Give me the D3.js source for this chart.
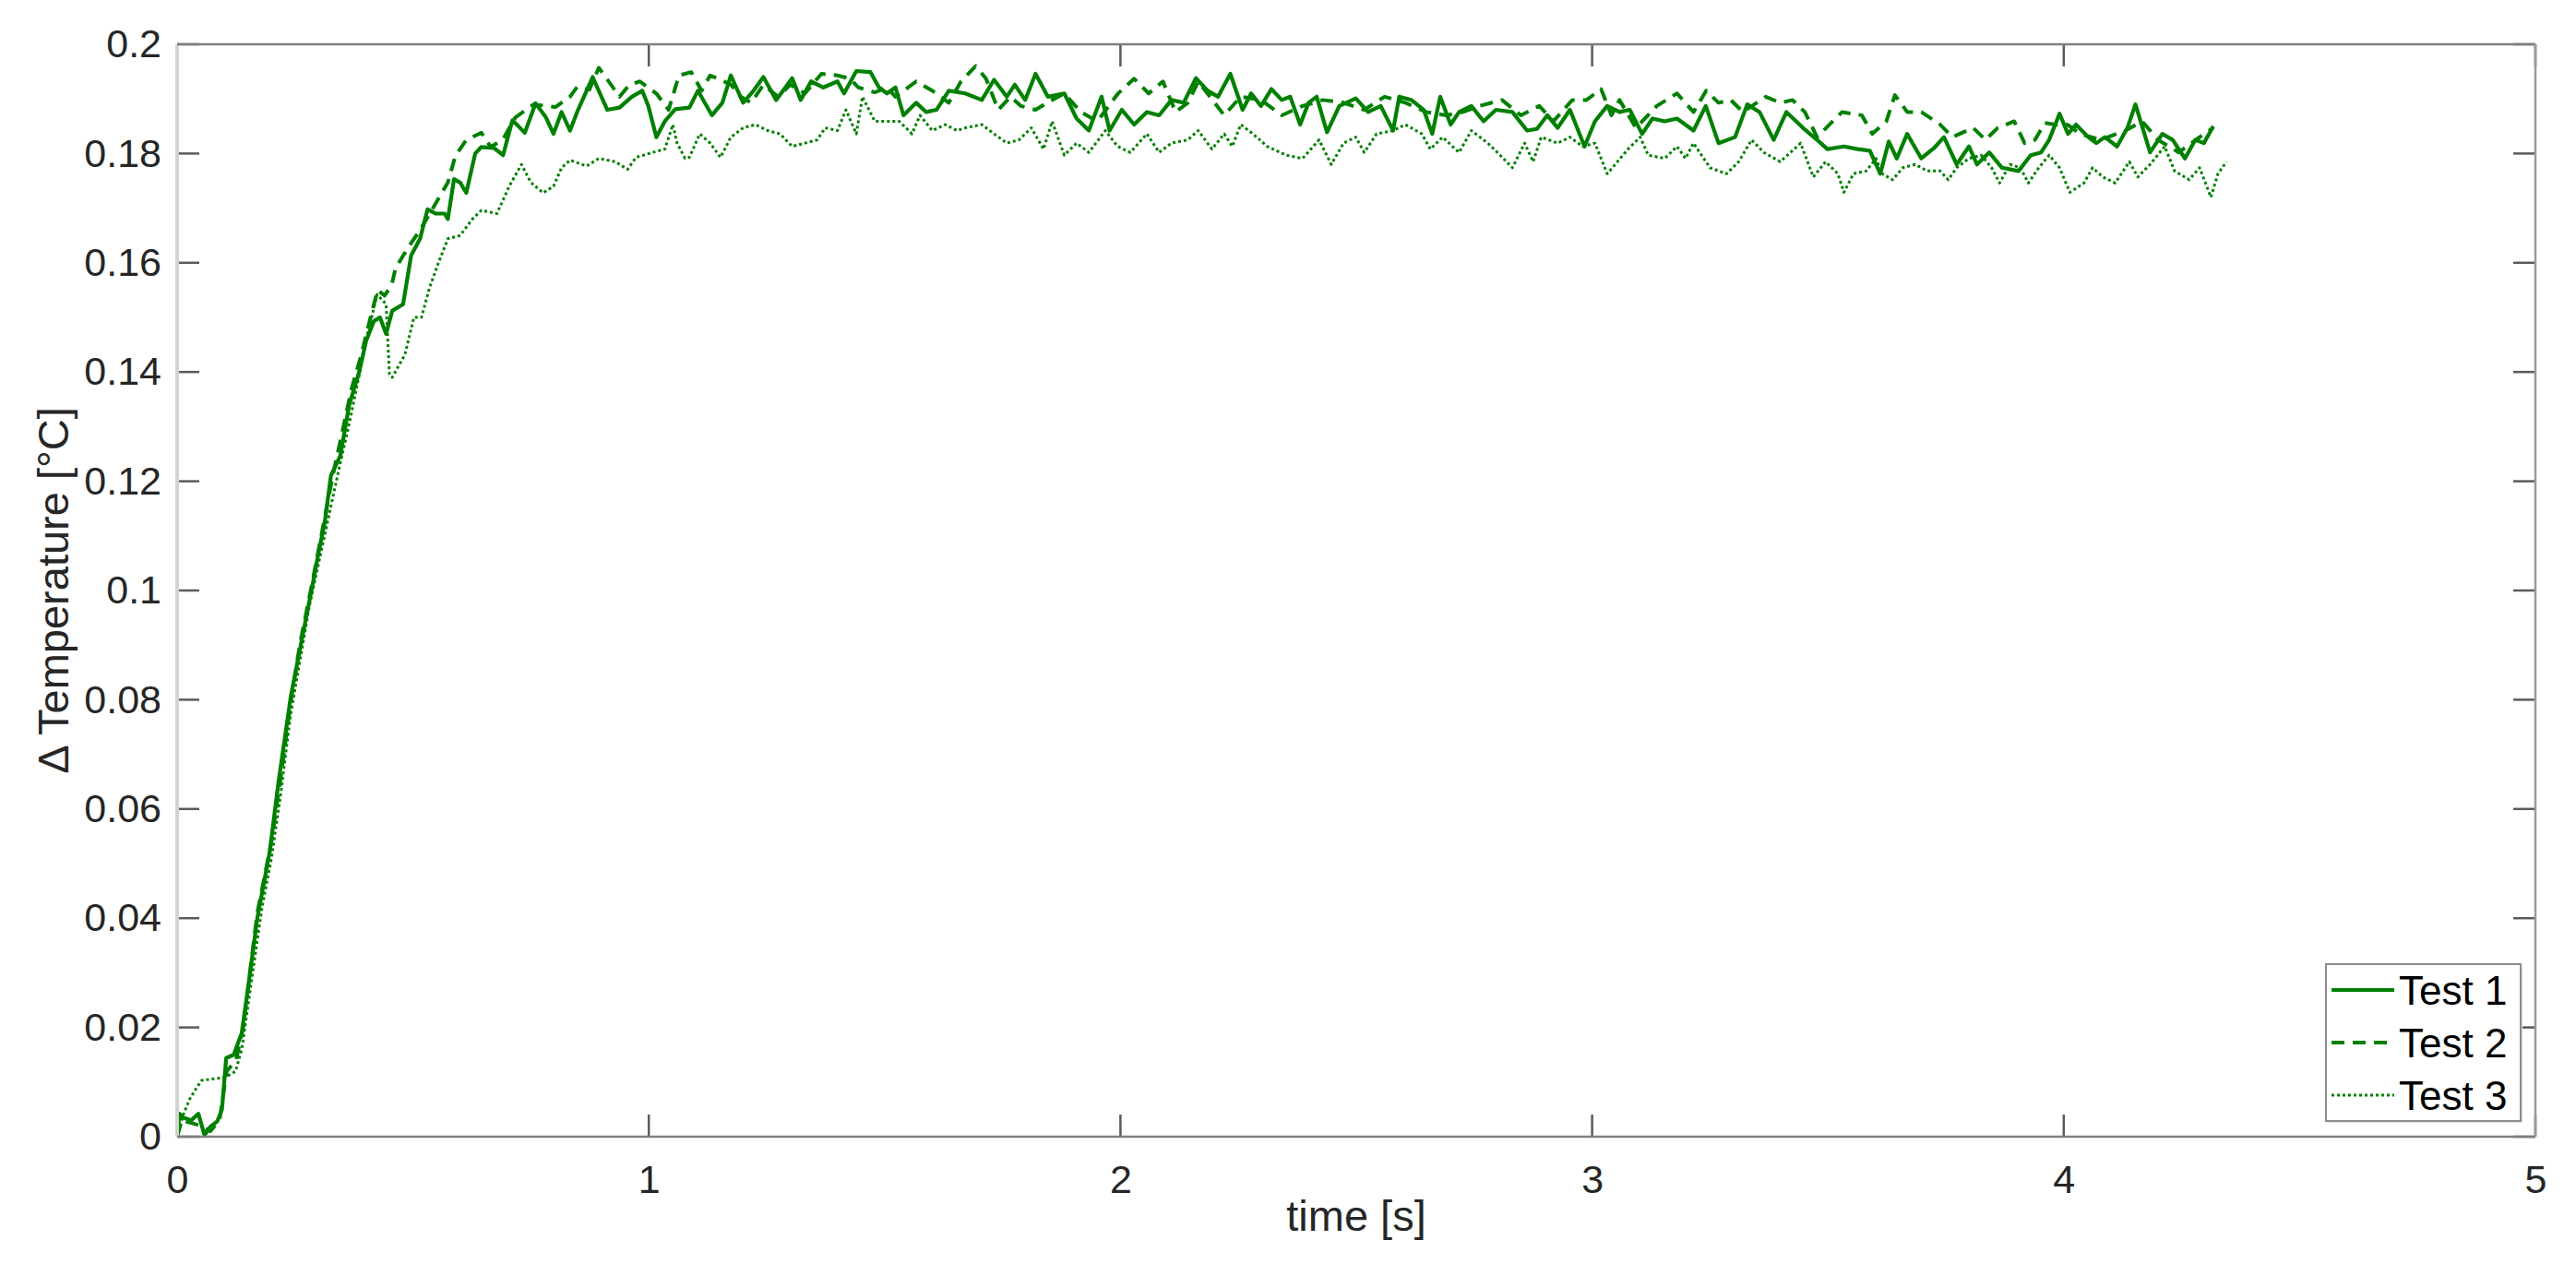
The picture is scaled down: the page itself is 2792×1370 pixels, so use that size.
<!DOCTYPE html>
<html>
<head>
<meta charset="utf-8">
<script src="https://cdn.jsdelivr.net/npm/d3@7"></script>
<style>
  html, body { margin: 0; padding: 0; background: #fff; }
  svg { display: block; }
  text { font-family: "Liberation Sans", Arial, Helvetica, sans-serif; }
</style>
</head>
<body>
<svg id="chart" width="2792" height="1370"></svg>
<script>
// ---- data (time [s], ΔT [°C]) ----
const xTicks = [0, 1, 2, 3, 4, 5];
const yTicks = [0, 0.02, 0.04, 0.06, 0.08, 0.1, 0.12, 0.14, 0.16, 0.18, 0.2];
const seriesNames = ["Test 1", "Test 2", "Test 3"];

const test1 = [[0,0],[0.005,0.0042],[0.012,0.0035],[0.03,0.003],[0.045,0.0042],[0.058,0.0003],[0.07,0.0018],[0.085,0.0028],[0.095,0.005],[0.104,0.0144],[0.12,0.015],[0.137,0.019],[0.15,0.027],[0.17,0.040],[0.196,0.052],[0.215,0.065],[0.241,0.0806],[0.261,0.0895],[0.287,0.101],[0.30,0.107],[0.313,0.1125],[0.326,0.121],[0.346,0.1247],[0.365,0.134],[0.385,0.1397],[0.401,0.1458],[0.417,0.1493],[0.430,0.150],[0.443,0.147],[0.456,0.1512],[0.479,0.1524],[0.496,0.1613],[0.515,0.1644],[0.531,0.1698],[0.548,0.169],[0.567,0.169],[0.574,0.168],[0.587,0.1753],[0.600,0.1747],[0.613,0.1728],[0.632,0.180],[0.645,0.1812],[0.672,0.181],[0.691,0.1797],[0.711,0.1861],[0.737,0.1838],[0.760,0.1892],[0.782,0.1866],[0.798,0.1836],[0.815,0.1876],[0.833,0.1842],[0.850,0.188],[0.881,0.194],[0.912,0.188],[0.938,0.1884],[0.964,0.1904],[0.986,0.1915],[0.999,0.1887],[1.016,0.183],[1.034,0.1859],[1.056,0.1881],[1.086,0.1884],[1.104,0.1915],[1.134,0.187],[1.156,0.1893],[1.174,0.1943],[1.200,0.1893],[1.222,0.1915],[1.243,0.194],[1.270,0.1898],[1.304,0.1938],[1.322,0.1898],[1.344,0.1932],[1.370,0.1921],[1.400,0.1932],[1.414,0.191],[1.440,0.1951],[1.470,0.1949],[1.488,0.1921],[1.505,0.191],[1.523,0.1921],[1.540,0.187],[1.567,0.1893],[1.588,0.1876],[1.610,0.188],[1.636,0.1915],[1.671,0.191],[1.706,0.1898],[1.732,0.1935],[1.759,0.1904],[1.776,0.1926],[1.798,0.1898],[1.820,0.1946],[1.846,0.1904],[1.881,0.191],[1.907,0.1864],[1.933,0.1842],[1.960,0.1904],[1.977,0.1842],[2.003,0.188],[2.029,0.1853],[2.056,0.1876],[2.082,0.187],[2.108,0.1898],[2.134,0.1893],[2.160,0.1938],[2.185,0.1915],[2.207,0.1904],[2.233,0.1946],[2.259,0.188],[2.277,0.191],[2.298,0.1887],[2.320,0.1918],[2.342,0.1898],[2.360,0.1904],[2.381,0.1853],[2.399,0.1893],[2.416,0.1904],[2.438,0.1839],[2.464,0.1887],[2.499,0.1901],[2.525,0.1876],[2.552,0.1887],[2.578,0.1842],[2.591,0.1904],[2.617,0.1898],[2.643,0.188],[2.661,0.1836],[2.678,0.1904],[2.700,0.1853],[2.718,0.1876],[2.744,0.1887],[2.770,0.1859],[2.796,0.188],[2.831,0.1876],[2.862,0.1842],[2.883,0.1845],[2.905,0.187],[2.927,0.1847],[2.953,0.188],[2.984,0.1813],[3.006,0.1859],[3.032,0.1887],[3.058,0.1876],[3.080,0.188],[3.106,0.1836],[3.128,0.1864],[3.154,0.1859],[3.180,0.1864],[3.215,0.1842],[3.241,0.1887],[3.268,0.1819],[3.303,0.183],[3.329,0.189],[3.355,0.1876],[3.385,0.1825],[3.412,0.1876],[3.447,0.1847],[3.477,0.1825],[3.499,0.1808],[3.534,0.1813],[3.563,0.1808],[3.589,0.1805],[3.611,0.1763],[3.629,0.1822],[3.646,0.1791],[3.668,0.1836],[3.698,0.1791],[3.725,0.181],[3.746,0.183],[3.773,0.178],[3.799,0.1813],[3.816,0.178],[3.842,0.1802],[3.869,0.1774],[3.904,0.1768],[3.930,0.1797],[3.952,0.1802],[3.969,0.1825],[3.991,0.1873],[4.009,0.1836],[4.026,0.1853],[4.052,0.183],[4.069,0.1819],[4.087,0.183],[4.113,0.1813],[4.135,0.1847],[4.152,0.189],[4.183,0.1802],[4.209,0.1836],[4.231,0.1825],[4.257,0.1791],[4.279,0.1825],[4.297,0.1819],[4.317,0.185]];

const test2 = [[0,0],[0.01,0.003],[0.03,0.0025],[0.05,0.002],[0.07,0.001],[0.09,0.003],[0.105,0.012],[0.125,0.014],[0.14,0.02],[0.17,0.041],[0.2,0.054],[0.22,0.066],[0.24,0.079],[0.26,0.09],[0.29,0.103],[0.31,0.112],[0.33,0.121],[0.35,0.129],[0.37,0.137],[0.39,0.143],[0.41,0.15],[0.425,0.155],[0.44,0.154],[0.455,0.156],[0.463,0.159],[0.489,0.1627],[0.515,0.166],[0.541,0.1698],[0.574,0.1747],[0.590,0.1796],[0.613,0.1825],[0.645,0.1838],[0.665,0.1812],[0.691,0.1826],[0.717,0.1866],[0.756,0.189],[0.802,0.1885],[0.833,0.1904],[0.848,0.1922],[0.874,0.1917],[0.894,0.1957],[0.920,0.1926],[0.938,0.1904],[0.959,0.1926],[0.981,0.1932],[1.016,0.191],[1.042,0.188],[1.064,0.1943],[1.090,0.1949],[1.112,0.1915],[1.130,0.1943],[1.147,0.1937],[1.174,0.1926],[1.195,0.1904],[1.217,0.1893],[1.243,0.1926],[1.274,0.1904],[1.300,0.1926],[1.331,0.191],[1.366,0.1946],[1.400,0.1943],[1.427,0.1937],[1.444,0.1921],[1.479,0.1912],[1.505,0.1921],[1.523,0.1904],[1.567,0.1932],[1.601,0.1915],[1.636,0.1893],[1.662,0.1932],[1.693,0.196],[1.715,0.1937],[1.741,0.188],[1.767,0.1904],[1.789,0.1887],[1.820,0.188],[1.855,0.1898],[1.881,0.191],[1.916,0.1876],[1.951,0.1859],[1.995,0.191],[2.029,0.1937],[2.060,0.191],[2.090,0.1932],[2.117,0.1876],[2.143,0.1893],[2.165,0.1932],[2.220,0.187],[2.255,0.1904],[2.298,0.1898],[2.342,0.187],[2.386,0.1887],[2.429,0.1898],[2.473,0.1893],[2.517,0.188],[2.560,0.1904],[2.604,0.1893],[2.648,0.1876],[2.691,0.187],[2.726,0.1876],[2.761,0.1887],[2.809,0.1898],[2.849,0.187],[2.888,0.1887],[2.918,0.1859],[2.958,0.1898],[2.988,0.1898],[3.019,0.1918],[3.041,0.187],[3.058,0.1898],[3.093,0.1847],[3.137,0.1887],[3.180,0.191],[3.215,0.1876],[3.242,0.1915],[3.268,0.1893],[3.294,0.1898],[3.320,0.1876],[3.368,0.1904],[3.399,0.1893],[3.425,0.1898],[3.451,0.1876],[3.477,0.183],[3.503,0.1853],[3.530,0.1876],[3.572,0.187],[3.594,0.1836],[3.624,0.1859],[3.642,0.1907],[3.668,0.1876],[3.698,0.1876],[3.738,0.1853],[3.764,0.183],[3.808,0.1847],[3.834,0.1825],[3.860,0.1847],[3.895,0.1859],[3.917,0.1819],[3.939,0.1825],[3.960,0.1856],[3.982,0.1853],[4.008,0.1853],[4.035,0.1836],[4.078,0.1825],[4.131,0.1842],[4.166,0.1859],[4.200,0.1825],[4.244,0.1802],[4.288,0.183],[4.317,0.1847]];

const test3 = [[0,0],[0.013,0.004],[0.026,0.0068],[0.04,0.0088],[0.052,0.0103],[0.078,0.0106],[0.098,0.0108],[0.115,0.0115],[0.124,0.012],[0.137,0.016],[0.16,0.03],[0.18,0.042],[0.2,0.051],[0.22,0.063],[0.24,0.077],[0.26,0.087],[0.28,0.097],[0.3,0.105],[0.32,0.113],[0.34,0.121],[0.365,0.1306],[0.385,0.139],[0.404,0.147],[0.424,0.1542],[0.443,0.1524],[0.45,0.1397],[0.456,0.139],[0.483,0.1432],[0.502,0.150],[0.518,0.150],[0.535,0.1554],[0.554,0.160],[0.574,0.1644],[0.600,0.165],[0.626,0.168],[0.645,0.1696],[0.678,0.169],[0.704,0.174],[0.730,0.178],[0.750,0.1747],[0.776,0.1728],[0.798,0.174],[0.815,0.1774],[0.833,0.1788],[0.868,0.1777],[0.894,0.1791],[0.929,0.1785],[0.955,0.1771],[0.973,0.1793],[1.008,0.1802],[1.034,0.1808],[1.051,0.1853],[1.060,0.1819],[1.077,0.1791],[1.086,0.1793],[1.108,0.1836],[1.130,0.1819],[1.152,0.1793],[1.174,0.183],[1.200,0.1847],[1.226,0.1853],[1.252,0.1842],[1.278,0.1836],[1.304,0.1813],[1.331,0.1819],[1.357,0.1825],[1.374,0.1847],[1.400,0.1842],[1.418,0.188],[1.440,0.1836],[1.453,0.1904],[1.479,0.1859],[1.505,0.1859],[1.531,0.1859],[1.558,0.1836],[1.575,0.187],[1.601,0.1842],[1.628,0.1853],[1.654,0.1842],[1.671,0.1847],[1.706,0.1853],[1.732,0.1836],[1.759,0.1819],[1.785,0.1825],[1.811,0.1847],[1.837,0.1808],[1.855,0.1859],[1.881,0.1797],[1.907,0.1819],[1.933,0.1802],[1.968,0.1842],[1.994,0.1813],[2.021,0.1802],[2.056,0.1836],[2.082,0.1802],[2.108,0.1819],[2.143,0.1825],[2.165,0.1842],[2.194,0.1808],[2.220,0.1836],[2.237,0.1813],[2.255,0.1853],[2.281,0.1836],[2.311,0.1813],[2.351,0.1797],[2.386,0.1791],[2.421,0.1825],[2.447,0.178],[2.473,0.1819],[2.499,0.183],[2.517,0.1802],[2.543,0.1836],[2.578,0.1842],[2.604,0.1853],[2.639,0.1836],[2.657,0.1808],[2.683,0.183],[2.718,0.1802],[2.744,0.1842],[2.779,0.1819],[2.805,0.1797],[2.831,0.1774],[2.857,0.1819],[2.875,0.1785],[2.892,0.183],[2.927,0.1819],[2.953,0.183],[2.980,0.1813],[3.006,0.1819],[3.032,0.1763],[3.049,0.178],[3.076,0.1808],[3.102,0.183],[3.119,0.1797],[3.154,0.1791],[3.180,0.1813],[3.198,0.1791],[3.215,0.1819],[3.250,0.1774],[3.285,0.1763],[3.311,0.1785],[3.338,0.1825],[3.364,0.1802],[3.399,0.1785],[3.442,0.1819],[3.469,0.1757],[3.495,0.1785],[3.521,0.1763],[3.534,0.1729],[3.554,0.1763],[3.581,0.1768],[3.602,0.1791],[3.615,0.1763],[3.637,0.1752],[3.659,0.1774],[3.685,0.178],[3.711,0.1768],[3.738,0.1768],[3.755,0.1752],[3.773,0.1774],[3.799,0.1791],[3.825,0.1797],[3.847,0.1774],[3.864,0.1746],[3.886,0.178],[3.908,0.1774],[3.925,0.1746],[3.947,0.1774],[3.969,0.1797],[3.991,0.1774],[4.013,0.1729],[4.043,0.1746],[4.061,0.1774],[4.083,0.1757],[4.109,0.1746],[4.139,0.1785],[4.157,0.1757],[4.183,0.178],[4.214,0.1813],[4.235,0.1768],[4.266,0.1752],[4.288,0.1774],[4.312,0.172],[4.327,0.1763],[4.345,0.1785]];

// ---- layout ----
const M = { left: 192, right: 2748, top: 48, bottom: 1232 };
const svg = d3.select("#chart");
const x = d3.scaleLinear().domain([0, 5]).range([M.left, M.right]);
const y = d3.scaleLinear().domain([0, 0.2]).range([M.bottom, M.top]);

const green = "#008000";
const styles = [
  { data: test1, width: 4.2, dash: null },
  { data: test2, width: 4, dash: "14,9" },
  { data: test3, width: 3, dash: "3,3" }
];

const fmtY = v => String(+v.toFixed(2));

// clip
svg.append("defs").append("clipPath").attr("id", "clip")
  .append("rect").attr("x", M.left).attr("y", M.top)
  .attr("width", M.right - M.left).attr("height", M.bottom - M.top);

// lines
const line = d3.line().x(d => x(d[0])).y(d => y(d[1]));
const g = svg.append("g").attr("clip-path", "url(#clip)");
styles.slice().reverse().forEach(s => {
  g.append("path").datum(s.data)
    .attr("d", line)
    .attr("fill", "none")
    .attr("stroke", green)
    .attr("stroke-width", s.width)
    .attr("stroke-linejoin", "round")
    .attr("stroke-dasharray", s.dash);
});

// axes (MATLAB-style box with inner ticks)
const tickLen = 24;
const axisColor = "#7f7f7f";
const tickColor = "#5a5a5a";
const textColor = "#262626";

const axB = d3.axisBottom(x).tickValues(xTicks).tickSize(0).tickPadding(30).tickFormat(d3.format("d"));
const axL = d3.axisLeft(y).tickValues(yTicks).tickSize(0).tickPadding(17).tickFormat(fmtY);

const gB = svg.append("g").attr("transform", `translate(0,${M.bottom})`).call(axB);
const gL = svg.append("g").attr("transform", `translate(${M.left},0)`).call(axL);
[gB, gL].forEach(gg => {
  gg.select(".domain").remove();
  gg.selectAll("text").attr("font-size", 43).attr("fill", textColor)
    .attr("font-family", '"Liberation Sans", Arial, sans-serif');
});
gB.selectAll("text").attr("dy", "0.71em");

// tick marks (inside, all four sides)
const ticks = svg.append("g").attr("stroke", tickColor).attr("stroke-width", 2.5);
xTicks.forEach(t => {
  ticks.append("line").attr("x1", x(t)).attr("x2", x(t)).attr("y1", M.bottom).attr("y2", M.bottom - tickLen);
  ticks.append("line").attr("x1", x(t)).attr("x2", x(t)).attr("y1", M.top).attr("y2", M.top + tickLen);
});
yTicks.forEach(t => {
  ticks.append("line").attr("x1", M.left).attr("x2", M.left + tickLen).attr("y1", y(t)).attr("y2", y(t));
  ticks.append("line").attr("x1", M.right).attr("x2", M.right - tickLen).attr("y1", y(t)).attr("y2", y(t));
});

// box
svg.append("line").attr("x1", M.left).attr("x2", M.left).attr("y1", M.top).attr("y2", M.bottom)
  .attr("stroke", "#d3d3d3").attr("stroke-width", 4);
svg.append("line").attr("x1", M.left).attr("x2", M.right).attr("y1", M.top).attr("y2", M.top)
  .attr("stroke", axisColor).attr("stroke-width", 2.5);
svg.append("line").attr("x1", M.left).attr("x2", M.right).attr("y1", M.bottom).attr("y2", M.bottom)
  .attr("stroke", axisColor).attr("stroke-width", 2.5);
svg.append("line").attr("x1", M.right).attr("x2", M.right).attr("y1", M.top).attr("y2", M.bottom)
  .attr("stroke", "#9a9a9a").attr("stroke-width", 2.5);

// axis labels
svg.append("text")
  .attr("x", (M.left + M.right) / 2).attr("y", 1334)
  .attr("text-anchor", "middle").attr("font-size", 47).attr("fill", textColor)
  .text("time [s]");
svg.append("text")
  .attr("transform", `translate(74,${(M.top + M.bottom) / 2}) rotate(-90)`)
  .attr("text-anchor", "middle").attr("font-size", 47).attr("fill", textColor)
  .text("Δ Temperature [°C]");

// legend
const L = { x: 2521, y: 1045, w: 211, h: 170, row: 57 };
const lg = svg.append("g");
lg.append("rect").attr("x", L.x + 2).attr("y", L.y + 2).attr("width", L.w).attr("height", L.h)
  .attr("fill", "#e0e0e0");
lg.append("rect").attr("x", L.x).attr("y", L.y).attr("width", L.w).attr("height", L.h)
  .attr("fill", "#fff").attr("stroke", "#8c8c8c").attr("stroke-width", 2);
seriesNames.forEach((name, i) => {
  const cy = L.y + 28 + i * L.row;
  lg.append("line").attr("x1", L.x + 6).attr("x2", L.x + 74).attr("y1", cy).attr("y2", cy)
    .attr("stroke", green).attr("stroke-width", styles[i].width)
    .attr("stroke-dasharray", styles[i].dash);
  lg.append("text").attr("x", L.x + 79).attr("y", cy).attr("dy", "0.36em")
    .attr("font-size", 44).attr("fill", "#000").text(name);
});
</script>
</body>
</html>
